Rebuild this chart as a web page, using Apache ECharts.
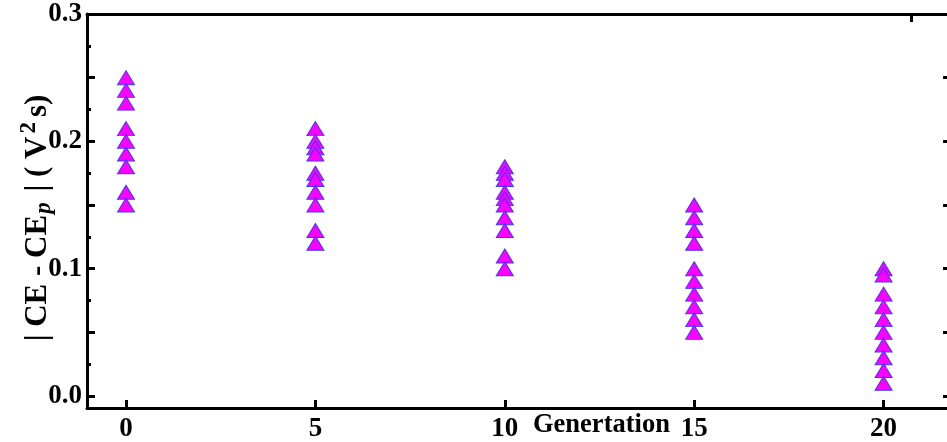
<!DOCTYPE html>
<html>
<head>
<meta charset="utf-8">
<script src="https://cdn.jsdelivr.net/npm/echarts@6/dist/echarts.min.js"></script>
<style>html,body{margin:0;padding:0;background:#fff}#c{width:947px;height:442px}</style>
</head>
<body>
<div id="c"></div>
<script>
// generation (x) values
var gen0 = [0.25, 0.24, 0.23, 0.21, 0.20, 0.19, 0.18, 0.16, 0.15];
var gen5 = [0.21, 0.20, 0.195, 0.19, 0.175, 0.17, 0.16, 0.15, 0.13, 0.12];
var gen10 = [0.18, 0.175, 0.17, 0.16, 0.155, 0.15, 0.14, 0.13, 0.11, 0.10];
var gen15 = [0.15, 0.14, 0.13, 0.12, 0.10, 0.09, 0.08, 0.07, 0.06, 0.05];
var gen20 = [0.10, 0.095, 0.08, 0.07, 0.06, 0.05, 0.04, 0.03, 0.02, 0.01];
var generations = [0, 5, 10, 15, 20];
var groups = [gen0, gen5, gen10, gen15, gen20];
var xTickLabels = [0, 5, 10, 15, 20];
var yTickLabels = [0.0, 0.1, 0.2, 0.3];
var yLongTicks = [0, 0.05, 0.1, 0.15, 0.2, 0.25, 0.3];
var yShortTicks = [0.025, 0.075, 0.125, 0.175, 0.225, 0.275];
var topTicks = [20.72];

var pts = [];
groups.forEach(function (g, i) { g.forEach(function (v) { pts.push([generations[i], v]); }); });

var FONT = '"Liberation Serif","Times New Roman",serif';
var lab = { fontFamily: FONT, fontWeight: 'bold', fontSize: 27, color: '#000' };
var blk = { color: '#000', width: 3 };

var chart = echarts.init(document.getElementById('c'), null, { renderer: 'canvas' });
var yBase = { type: 'value', min: -0.0094, max: 0.3, splitLine: { show: false } };
chart.setOption({
  animation: false,
  grid: { left: 87, top: 14, width: 864, height: 394, containLabel: false, outerBoundsMode: 'none' },
  title: {
    text: 'Genertation', left: 528, top: 407,
    textStyle: { fontFamily: FONT, fontWeight: 'bold', fontSize: 26.5, color: '#000' }
  },
  xAxis: [
    { type: 'value', min: -1.03, max: 21.78, position: 'bottom',
      splitLine: { show: false },
      axisLine: { onZero: false, lineStyle: blk },
      axisTick: { inside: true, length: 8, lineStyle: blk, customValues: xTickLabels },
      axisLabel: Object.assign({ customValues: xTickLabels, margin: 8 }, lab) },
    { type: 'value', min: -1.03, max: 21.78, position: 'top',
      splitLine: { show: false },
      axisLine: { onZero: false, lineStyle: blk },
      axisTick: { inside: true, length: 8, lineStyle: blk, customValues: topTicks },
      axisLabel: { show: false } }
  ],
  yAxis: [
    Object.assign({}, yBase, { position: 'left',
      name: '{n|| CE - CE}{sub|p}{n| | ( V}{sup|2}{n|s)}',
      nameLocation: 'middle', nameRotate: 90, nameGap: 30, nameMoveOverlap: false,
      nameTextStyle: { padding: [0, 14, 0, 0], rich: {
        n: { fontFamily: FONT, fontWeight: 'bold', fontSize: 31, color: '#000' },
        sub: { fontFamily: FONT, fontWeight: 'bold', fontStyle: 'italic', fontSize: 23, color: '#000', padding: [14, 3, 0, 1] },
        sup: { fontFamily: FONT, fontWeight: 'bold', fontSize: 23, color: '#000', padding: [0, 5, 16, 3] }
      } },
      axisLine: { onZero: false, lineStyle: blk },
      axisTick: { inside: true, length: 8, lineStyle: blk, customValues: yLongTicks },
      axisLabel: Object.assign({ customValues: yTickLabels, margin: 5, formatter: function (v) { return v.toFixed(1); } }, lab) }),
    Object.assign({}, yBase, { position: 'left',
      axisLine: { show: false, onZero: false },
      axisTick: { inside: true, length: 4, lineStyle: blk, customValues: yShortTicks },
      axisLabel: { show: false } }),
    Object.assign({}, yBase, { position: 'right',
      axisLine: { onZero: false, lineStyle: blk },
      axisTick: { inside: true, length: 8, lineStyle: blk, customValues: yLongTicks },
      axisLabel: { show: false } }),
    Object.assign({}, yBase, { position: 'right',
      axisLine: { show: false, onZero: false },
      axisTick: { inside: true, length: 4, lineStyle: blk, customValues: yShortTicks },
      axisLabel: { show: false } })
  ],
  series: [{
    type: 'scatter', xAxisIndex: 0, yAxisIndex: 0,
    data: pts, symbol: 'triangle', symbolSize: [17, 14],
    itemStyle: { color: '#ff00ff', borderColor: '#3a3aff', borderWidth: 1, opacity: 1 }
  }]
});
</script>
</body>
</html>
